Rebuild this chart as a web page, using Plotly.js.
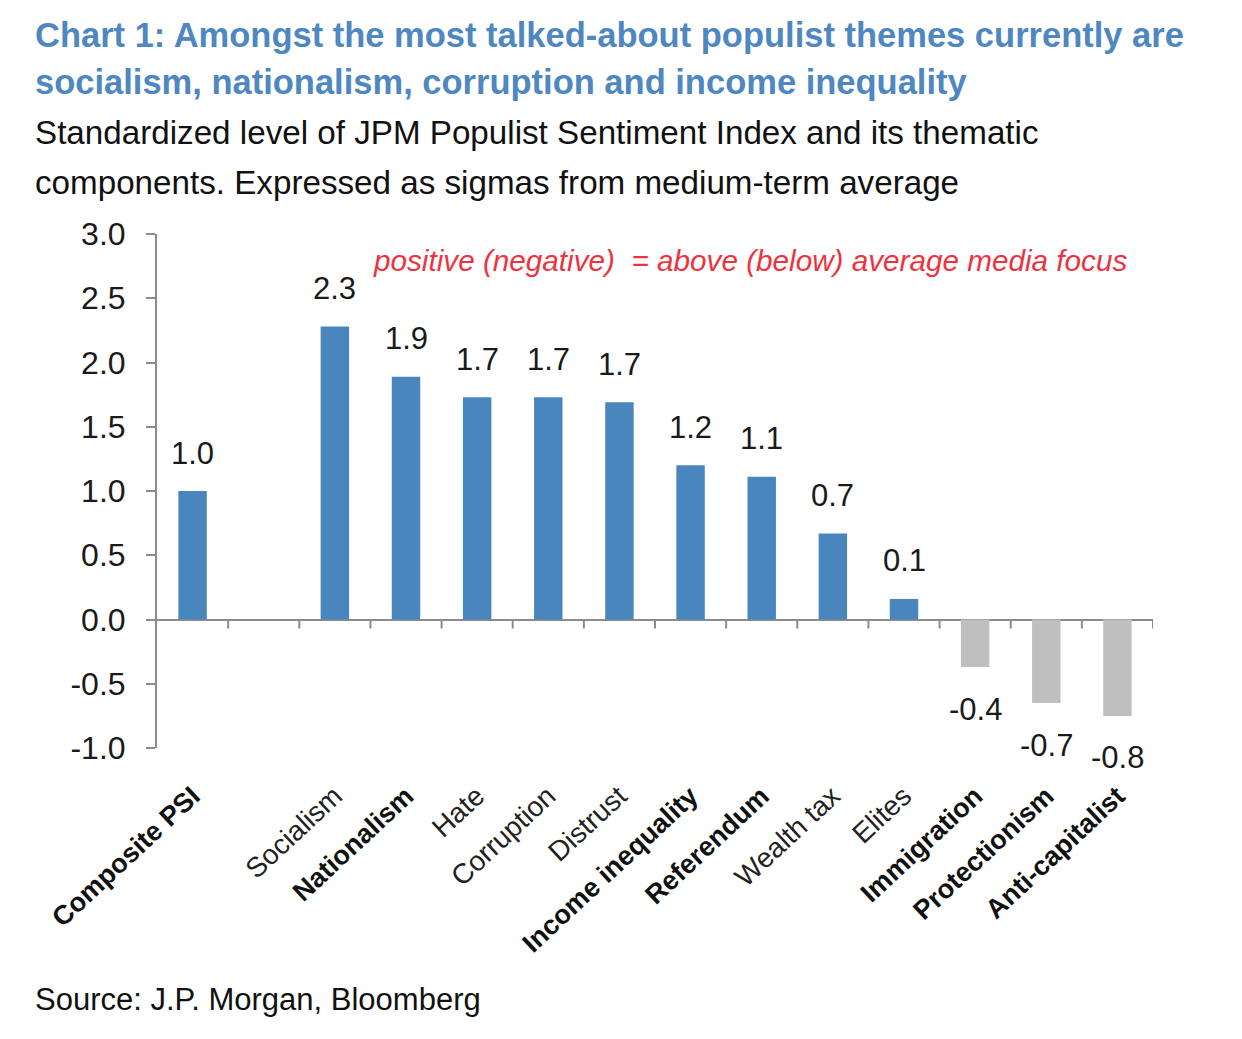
<!DOCTYPE html>
<html>
<head>
<meta charset="utf-8">
<script src="https://cdn.plot.ly/plotly-3.0.1.min.js"></script>
<style>html,body{margin:0;padding:0;background:#fff;}#chart{width:1242px;height:1039px;}</style>
</head>
<body>
<div id="chart"></div>
<script>
// ---- Data ----
var categories = ["Composite PSI", "", "Socialism", "Nationalism", "Hate", "Corruption", "Distrust",
  "Income inequality", "Referendum", "Wealth tax", "Elites", "Immigration", "Protectionism", "Anti-capitalist"];
var values = [1.0, null, 2.28, 1.89, 1.73, 1.73, 1.69, 1.20, 1.11, 0.67, 0.16, -0.37, -0.65, -0.75];
var valueLabels = ["1.0", "", "2.3", "1.9", "1.7", "1.7", "1.7", "1.2", "1.1", "0.7", "0.1", "-0.4", "-0.7", "-0.8"];
var boldCategories = ["Composite PSI", "Nationalism", "Income inequality", "Referendum", "Immigration", "Protectionism", "Anti-capitalist"];
var yTicks = [-1.0, -0.5, 0.0, 0.5, 1.0, 1.5, 2.0, 2.5, 3.0];
var yTickLabels = ["-1.0", "-0.5", "0.0", "0.5", "1.0", "1.5", "2.0", "2.5", "3.0"];

var FONT = "'Liberation Sans', Arial, sans-serif";
var BLUE = "#4A86BE", GREY = "#BFBFBF", AXIS = "#8C8C8C";

var idx = categories.map(function (c, i) { return i; });
var colors = values.map(function (v) { return v !== null && v < 0 ? GREY : BLUE; });
var tickText = categories.map(function (c) {
  return boldCategories.indexOf(c) >= 0 ? "<b>" + c + "</b>" : "<span style=\"font-size:28px;fill:#222\">" + c + "</span>";
});

var trace = {
  type: "bar",
  x: idx,
  y: values,
  width: 0.4,
  marker: { color: colors },
  hoverinfo: "skip"
};

var annotations = [];
values.forEach(function (v, i) {
  if (v === null) return;
  annotations.push({
    x: i, y: v, xref: "x", yref: "y",
    text: valueLabels[i], showarrow: false,
    yanchor: "middle", yshift: v >= 0 ? 38 : -42,
    font: { family: FONT, size: 31, color: "#1a1a1a" }
  });
});

function textLine(txt, yPaper, size, color) {
  return {
    xref: "paper", yref: "paper", x: -0.1245, y: yPaper, xanchor: "left", yanchor: "middle",
    text: txt, showarrow: false, align: "left",
    font: { family: FONT, size: size, color: color }
  };
}
annotations.push(textLine("<b>Chart 1: Amongst the most talked-about populist themes currently are</b>", 1.387, 34.5, "#4F87C1"));
annotations.push(textLine("<b>socialism, nationalism, corruption and income inequality</b>", 1.2957, 34.5, "#4F87C1"));
annotations.push(textLine("Standardized level of JPM Populist Sentiment Index and its thematic", 1.1965, 33.2, "#111"));
annotations.push(textLine("components. Expressed as sigmas from medium-term average", 1.101, 33.2, "#111"));
annotations.push(textLine("Source: J.P. Morgan, Bloomberg", -0.490, 31, "#111"));
annotations.push({
  xref: "paper", yref: "paper", x: 0.2145, y: 0.949, xanchor: "left", yanchor: "middle",
  text: "<i>positive (negative)  = above (below) average media focus</i>", showarrow: false,
  font: { family: FONT, size: 29.7, color: "#EE3340" }
});

var shapes = [];
for (var k = 0; k < categories.length; k++) {
  shapes.push({
    type: "line", xref: "x", yref: "y", ysizemode: "pixel", yanchor: 0,
    x0: k + 0.5, x1: k + 0.5, y0: 0, y1: -9,
    line: { color: AXIS, width: 2 }
  });
}

var layout = {
  width: 1242, height: 1039,
  margin: { l: 157, r: 89, t: 234, b: 291 },
  paper_bgcolor: "#fff", plot_bgcolor: "#fff",
  showlegend: false,
  font: { family: FONT, color: "#1a1a1a" },
  xaxis: {
    range: [-0.5, 13.5], tickvals: idx, ticktext: tickText, tickangle: -43,
    showline: false, showgrid: false, zeroline: false, ticks: "",
    ticklabelstandoff: 26,
    tickfont: { family: FONT, size: 27, color: "#111" }, fixedrange: true
  },
  yaxis: {
    range: [-1, 3], tickvals: yTicks, ticktext: yTickLabels,
    showline: true, linecolor: AXIS, linewidth: 2,
    ticks: "outside", ticklen: 9, tickcolor: AXIS, tickwidth: 2,
    ticklabelstandoff: 14,
    showgrid: false, zeroline: true, zerolinecolor: AXIS, zerolinewidth: 2,
    tickfont: { family: FONT, size: 32, color: "#1a1a1a" }, fixedrange: true
  },
  annotations: annotations,
  shapes: shapes
};

Plotly.newPlot("chart", [trace], layout, { displayModeBar: false, staticPlot: true });
</script>
</body>
</html>
